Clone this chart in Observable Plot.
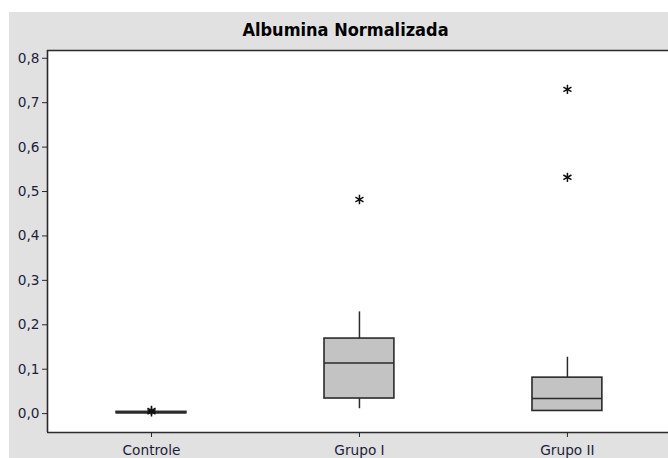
<!DOCTYPE html>
<html>
<head>
<meta charset="utf-8">
<script src="https://cdn.jsdelivr.net/npm/d3@7"></script>
<script src="https://cdn.jsdelivr.net/npm/@observablehq/plot@0.6"></script>
<style>
  html, body { margin: 0; padding: 0; background: #ffffff; }
  #wrap { position: absolute; left: 9px; top: 12px; width: 659px; height: 446px; background: #e1e1e1; }
  #title { height: 32px; line-height: 35px; text-align: center; font-family: "DejaVu Sans Condensed", "DejaVu Sans", sans-serif; font-weight: bold; font-size: 18px; color: #000; padding-left: 14px; box-sizing: border-box; }
  svg { display: block; }
</style>
</head>
<body>
<div id="wrap"><div id="title">Albumina Normalizada</div><div id="chart"></div></div>
<script>
const categories = ["Controle", "Grupo I", "Grupo II"];
const q1 = [0.001, 0.034, 0.006];
const median = [0.002, 0.114, 0.034];
const q3 = [0.004, 0.169, 0.081];
const whiskerLow = [0.001, 0.011, 0.006];
const whiskerHigh = [0.004, 0.229, 0.127];
const outlierGroup = ["Controle", "Controle", "Grupo I", "Grupo II", "Grupo II"];
const outlierValue = [0.004, 0.007, 0.482, 0.532, 0.730];
const yTicks = [0, 0.1, 0.2, 0.3, 0.4, 0.5, 0.6, 0.7, 0.8];

const half = 0.168;
const boxes = categories.map((c, i) => ({
  i, c, q1: q1[i], med: median[i], q3: q3[i], lo: whiskerLow[i], hi: whiskerHigh[i]
}));
const outliers = outlierGroup.map((g, k) => ({ i: categories.indexOf(g), v: outlierValue[k] }));
const yDomain = [-0.0425, 0.8175];
const fmt = d => d3.format(".1f")(d).replace(".", ",");
const dark = "#2a2a2a";
const labelColor = "#1e1e3a";
const font = "'DejaVu Sans', sans-serif";

const chart = Plot.plot({
  width: 659,
  height: 414,
  marginLeft: 38,
  marginRight: 0,
  marginTop: 6,
  marginBottom: 26,
  style: { background: "transparent", fontFamily: font, fontSize: "13.7px", color: labelColor },
  x: { type: "linear", domain: [-0.5, 2.486] },
  y: { domain: yDomain },
  marks: [
    Plot.frame({ fill: "white", stroke: "none" }),
    Plot.ruleX(boxes, { x: "i", y1: "q3", y2: "hi", stroke: dark, strokeWidth: 1.5 }),
    Plot.ruleX(boxes, { x: "i", y1: "lo", y2: "q1", stroke: dark, strokeWidth: 1.5 }),
    Plot.rect(boxes, { x1: d => d.i - half, x2: d => d.i + half, y1: "q1", y2: "q3", fill: "#c3c3c3", stroke: dark, strokeWidth: 1.6 }),
    Plot.ruleY(boxes, { y: "med", x1: d => d.i - half, x2: d => d.i + half, stroke: dark, strokeWidth: 1.6 }),
    Plot.dot(outliers, { x: "i", y: "v", symbol: "asterisk", r: 4.4, stroke: "#111", strokeWidth: 1.5 }),
    Plot.ruleY([yDomain[0], yDomain[1]], { stroke: dark, strokeWidth: 1.6 }),
    Plot.ruleX([-0.5], { stroke: dark, strokeWidth: 1.6 }),
    Plot.axisY({ ticks: yTicks, tickFormat: fmt, tickSize: 5, tickPadding: 3, label: null, stroke: dark, fill: labelColor, fontSize: 13.7 }),
    Plot.axisX({ ticks: [0, 1, 2], tickFormat: i => categories[i], tickSize: 5, tickPadding: 8, label: null, stroke: dark, fill: labelColor, fontSize: 13.7 })
  ]
});
document.getElementById("chart").appendChild(chart);
</script>
</body>
</html>
